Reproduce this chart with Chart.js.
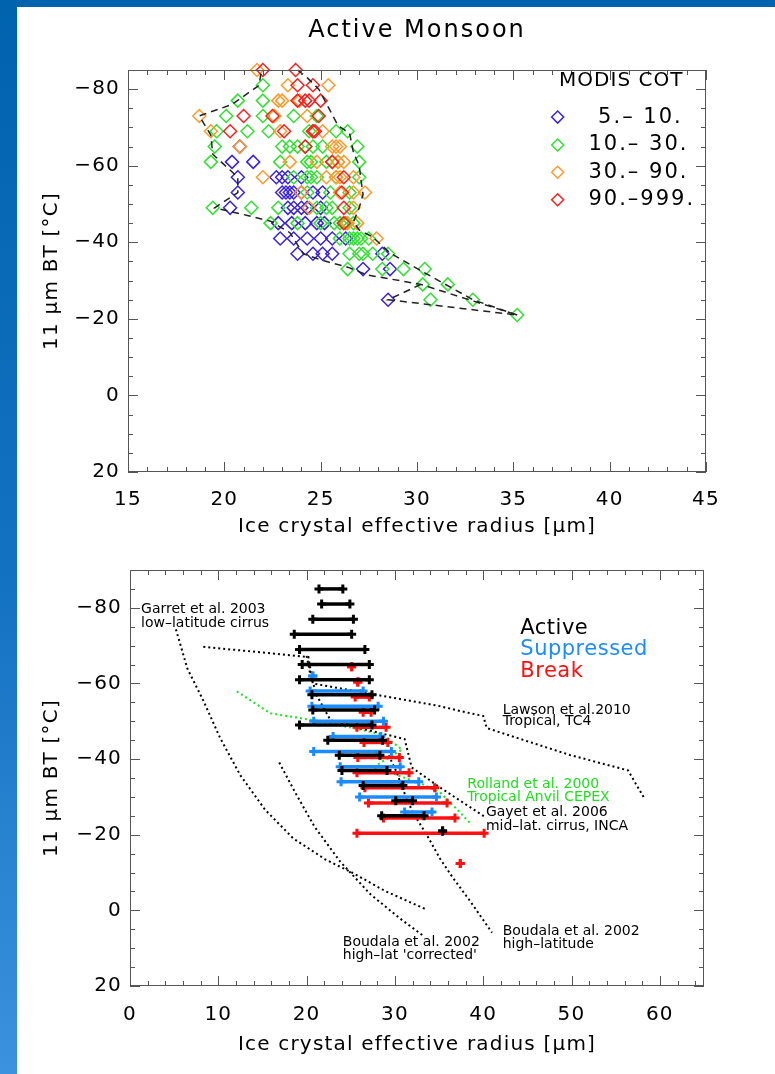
<!DOCTYPE html>
<html>
<head>
<meta charset="utf-8">
<script src="https://cdn.jsdelivr.net/npm/chart.js@4.4.0/dist/chart.umd.min.js"></script>
<style>
  html, body { margin: 0; padding: 0; }
  body { width: 775px; height: 1074px; overflow: hidden; position: relative;
         background: linear-gradient(to bottom, #0063ae 0%, #1472c2 55%, #3b92de 100%); }
  #panel { position: absolute; left: 17px; top: 7px; right: 0; bottom: 0; background: #fff; }
  canvas { position: absolute; left: 17px; }
  #top { top: 7px; }
  #bottom { top: 550px; }
</style>
</head>
<body>
<div id="panel"></div>
<canvas id="top" width="758" height="543"></canvas>
<canvas id="bottom" width="758" height="524"></canvas>
<script>
// ---- tick labels ----
const topXTicks = [15, 20, 25, 30, 35, 40, 45];
const topYTicks = [-80, -60, -40, -20, 0, 20];
const botXTicks = [0, 10, 20, 30, 40, 50, 60];
const botYTicks = [-80, -60, -40, -20, 0, 20];

// ---- top panel: MODIS COT classes, [radius, BT] ----
const cotClasses = ['5.\u2013 10.', '10.\u2013 30.', '30.\u2013 90.', '90.\u2013999.'];
const cot5to10 = [
  [20.8,-65], [20.4,-61], [21.5,-61],
  [20.7,-57], [22.7,-57], [23.0,-57], [23.3,-57], [24.0,-57],
  [20.7,-53], [23.0,-53], [23.2,-53], [23.4,-53], [23.6,-53], [24.0,-53], [24.6,-53], [25.1,-53],
  [20.3,-49], [23.3,-49], [23.6,-49], [24.0,-49], [24.3,-49], [25.0,-49],
  [22.8,-45], [23.5,-45], [24.2,-45], [24.8,-45], [25.2,-45],
  [22.9,-41], [23.6,-41], [24.3,-41], [25.0,-41], [25.6,-41], [26.3,-41],
  [23.8,-37], [24.6,-37], [25.1,-37], [25.6,-37], [28.2,-37],
  [27.2,-33], [28.6,-33], [28.5,-25]
];
const cot10to30 = [
  [22.0,-81], [20.7,-77], [22.0,-77],
  [20.1,-73], [22.0,-73], [23.6,-73], [24.8,-73],
  [19.6,-69], [21.2,-69], [22.3,-69], [24.4,-69], [25.8,-69], [26.4,-69],
  [19.5,-65], [23.0,-65], [23.4,-65], [23.8,-65], [24.2,-65], [24.6,-65], [25.1,-65], [26.9,-65],
  [19.3,-61], [22.9,-61], [24.3,-61], [24.5,-61], [25.3,-61], [25.9,-61], [27.0,-61],
  [23.6,-57], [24.3,-57], [24.5,-57], [24.8,-57], [25.8,-57], [27.0,-57],
  [24.3,-53], [25.5,-53], [26.5,-53],
  [19.4,-49], [21.4,-49], [22.8,-49], [24.8,-49], [25.3,-49], [25.6,-49], [26.5,-49],
  [22.4,-45], [23.8,-45], [25.0,-45], [25.7,-45], [26.0,-45], [26.3,-45], [26.7,-45],
  [26.0,-41], [26.5,-41], [26.7,-41], [26.9,-41], [27.1,-41], [27.5,-41],
  [26.5,-37], [27.0,-37], [27.2,-37], [27.7,-37], [28.5,-37],
  [26.4,-33], [28.2,-33], [29.3,-33], [30.4,-33],
  [30.3,-29], [31.6,-29], [30.7,-25], [32.9,-25], [35.2,-21]
];
const cot30to90 = [
  [21.7,-85], [23.3,-81], [25.4,-81],
  [22.8,-77], [23.0,-77], [23.9,-77],
  [18.7,-73], [22.6,-73], [24.3,-73],
  [19.3,-69], [22.9,-69], [24.6,-69], [25.1,-69],
  [20.8,-65], [25.6,-65], [25.8,-65], [26.0,-65],
  [23.4,-61], [24.8,-61], [25.6,-61], [25.9,-61], [26.2,-61],
  [22.0,-57], [25.3,-57], [25.8,-57], [26.0,-57], [26.7,-57],
  [24.0,-53], [26.0,-53], [26.7,-53], [27.3,-53],
  [24.4,-49], [26.7,-49], [26.4,-45], [26.9,-45], [27.9,-41]
];
const cot90to999 = [
  [22.0,-85], [23.7,-85], [23.8,-81], [24.6,-81],
  [23.8,-77], [24.2,-77], [24.4,-77], [25.0,-77],
  [21.0,-73], [22.5,-73], [24.9,-73],
  [20.3,-69], [23.1,-69], [24.6,-69], [24.7,-69],
  [24.2,-65], [25.6,-61], [26.2,-57], [26.1,-53], [26.2,-49], [26.2,-45]
];
// dashed envelopes
const envLeft = [[21.9,-84],[21.8,-81],[20.4,-76],[18.7,-73],[19.3,-68],[19.4,-63],[20.7,-57],[20.7,-53],
  [19.5,-49],[21.2,-47],[22.4,-45.5],[23.4,-42.5],[24.1,-37],[25.0,-35.4],[26.4,-33.5],[27.4,-31.5],[30.2,-29],[35.2,-21]];
const envRight = [[23.8,-85],[24.3,-83],[24.9,-80],[25.9,-70.5],[26.5,-68.5],[26.7,-63.5],[27.0,-60],[27.1,-56],
  [27.2,-52.5],[27.0,-49],[26.7,-45.3],[27.0,-43.2],[27.7,-41.4],[28.6,-37.2],[30.3,-32.3],[32.9,-25],[35.2,-21]];
const envInner = [[30.2,-29],[28.5,-25],[35.2,-21]];

// ---- bottom panel: regime ranges ----
const activeBT = [-85,-81,-77,-73,-69,-65,-61,-57,-53,-49,-45,-41,-37,-33,-29,-25,-21];
const activeLo = [21.4,21.7,20.7,18.6,19.2,19.5,19.2,20.6,20.7,19.2,22.4,23.7,24.0,26.4,30.1,28.5,35.4];
const activeHi = [24.1,24.9,25.3,25.1,26.6,27.1,27.1,27.4,27.7,27.4,28.6,28.3,29.1,30.9,32.0,33.3,35.4];
const suppBT = [-62,-58,-54,-50,-46,-42,-38,-34,-30,-26];
const suppLo = [20.7,20.4,20.6,20.8,23.0,20.8,23.8,23.9,26.0,31.1];
const suppHi = [20.7,26.4,28.1,28.7,28.4,29.6,30.6,32.7,34.7,34.2];
const breakBT = [-64.4,-60.4,-56.4,-52.4,-48.4,-44.4,-40.4,-36.4,-32.4,-28.4,-24.4,-20.4,-12.4];
const breakLo = [25.1,25.8,25.5,26.4,25.7,26.5,25.8,25.7,26.6,27.0,28.7,25.7,37.4];
const breakHi = [25.1,25.8,27.1,27.3,29.0,29.2,30.5,31.6,34.5,35.9,36.8,40.1,37.4];

// literature relations
const garrett2003 = [[5.2,-74.3],[6.5,-63.9],[8.3,-55.5],[10.2,-45.6],[12.5,-35.7],[15.3,-26.6],[18.5,-19.0],[22.1,-13.5],[25.3,-9.8],[28.9,-5.1],[33.4,-0.4]];
const boudalaCorr = [[16.9,-39.1],[18.7,-31.2],[20.9,-22.1],[23.8,-12.9],[27.2,-4.3],[30.6,2.2],[33.2,6.7]];
const boudalaHigh = [[29.3,-41.0],[30.2,-36.5],[30.9,-32.0],[32.0,-26.0],[33.6,-20.0],[35.1,-13.7],[36.6,-8.5],[38.5,-2.5],[41.0,5.9]];
const gayet2006 = [[20.0,-67.3],[20.4,-62.6],[21.2,-56.6],[22.7,-50.3],[26.0,-48.2],[31.1,-45.3],[31.9,-37.8],[35.1,-32.5],[40.2,-24.7]];
const lawson2010 = [[8.3,-69.7],[20.2,-67.0],[20.7,-60.0],[35.1,-54.0],[37.4,-52.7],[40.0,-51.4],[40.4,-48.2],[49.8,-41.1],[56.4,-37.0],[58.3,-29.4]];
const rolland2000 = [[12.1,-57.9],[15.9,-52.1],[20.7,-50.3],[25.3,-48.2],[28.7,-46.4],[30.8,-42.5],[27.5,-37.8],[29.4,-36.5],[33.2,-33.3],[35.1,-31.2],[37.0,-26.8],[38.7,-22.6]];

const FONT = '"DejaVu Sans", sans-serif';
const COT_COLORS = ['#3a22e0', '#33e033', '#ff9a2a', '#f02424'];
const BLUE = '#1a8cff', RED = '#ff1010', GREEN = '#22dd22';

const fmt = v => (v < 0 ? '\u2212' + Math.abs(v) : String(v));
const pts = arr => arr.map(([x, y]) => ({ x, y }));

// wider glyph spacing, closer to the plotting font of the original
const spacing = {
  id: 'spacing',
  beforeDraw(chart) { chart.ctx.letterSpacing = '1.2px'; }
};

// IDL-style box with inward ticks on all four sides
const insideTicks = {
  id: 'insideTicks',
  afterDatasetsDraw(chart, args, o) {
    const { ctx, chartArea: a, scales: { x, y } } = chart;
    ctx.save();
    ctx.strokeStyle = '#555';
    ctx.lineWidth = 1;
    ctx.strokeRect(a.left + 0.5, a.top + 0.5, a.width - 1, a.height - 1);
    ctx.beginPath();
    const isMajor = (v, m) => Math.abs(v / m - Math.round(v / m)) < 1e-6;
    for (let v = Math.ceil(x.min / o.xMinor) * o.xMinor; v <= x.max + 1e-6; v += o.xMinor) {
      const len = isMajor(v, o.xMajor) ? 10 : 5;
      const px = Math.round(x.getPixelForValue(v)) + 0.5;
      ctx.moveTo(px, a.bottom); ctx.lineTo(px, a.bottom - len);
      ctx.moveTo(px, a.top); ctx.lineTo(px, a.top + len);
    }
    for (let v = Math.ceil(y.min / o.yMinor) * o.yMinor; v <= y.max + 1e-6; v += o.yMinor) {
      const len = isMajor(v, o.yMajor) ? 10 : 5;
      const py = Math.round(y.getPixelForValue(v)) + 0.5;
      ctx.moveTo(a.left, py); ctx.lineTo(a.left + len, py);
      ctx.moveTo(a.right, py); ctx.lineTo(a.right - len, py);
    }
    ctx.stroke();
    ctx.restore();
  }
};

// free text and legend marks placed in data units
const labelText = {
  id: 'labelText',
  afterDraw(chart, args, o) {
    const { ctx, chartArea: a, scales: { x, y } } = chart;
    ctx.save();
    ctx.textBaseline = 'middle';
    if (o.title) {
      ctx.font = o.title.font;
      ctx.letterSpacing = '2px';
      ctx.fillStyle = '#000';
      ctx.textAlign = 'center';
      ctx.fillText(o.title.text, (a.left + a.right) / 2, a.top - o.title.gap);
    }
    (o.items || []).forEach(t => {
      ctx.font = t.font;
      ctx.letterSpacing = t.spacing || '0px';
      ctx.fillStyle = t.color || '#000';
      ctx.textAlign = t.align || 'left';
      ctx.fillText(t.text, x.getPixelForValue(t.x), y.getPixelForValue(t.y));
    });
    (o.marks || []).forEach(m => {
      const px = x.getPixelForValue(m.x), py = y.getPixelForValue(m.y), r = 6;
      ctx.strokeStyle = m.color;
      ctx.lineWidth = 1.5;
      ctx.beginPath();
      ctx.moveTo(px, py - r); ctx.lineTo(px + r, py); ctx.lineTo(px, py + r); ctx.lineTo(px - r, py);
      ctx.closePath();
      ctx.stroke();
    });
    ctx.restore();
  }
};

function axis(min, max, ticks, extra) {
  return Object.assign({
    type: 'linear', min, max,
    afterBuildTicks: s => { s.ticks = ticks.map(v => ({ value: v })); },
    grid: { display: false, drawTicks: false },
    border: { display: false }
  }, extra);
}
const tickFont = { family: FONT, size: 20 };
const titleFont = { family: FONT, size: 20 };

// ---------- top chart ----------
const diamondSet = (arr, color) => ({
  data: pts(arr), pointStyle: 'rectRot', pointRadius: 6.5, pointHoverRadius: 6.5, clip: false,
  pointBorderWidth: 1.5, borderColor: color, pointBorderColor: color, backgroundColor: 'rgba(0,0,0,0)'
});
const dashSet = arr => ({
  data: pts(arr), showLine: true, pointRadius: 0, clip: false, borderColor: '#222', borderWidth: 1.5, borderDash: [7, 5]
});

new Chart(document.getElementById('top'), {
  type: 'scatter',
  data: {
    datasets: [
      dashSet(envLeft), dashSet(envRight), dashSet(envInner),
      diamondSet(cot90to999, COT_COLORS[3]),
      diamondSet(cot30to90, COT_COLORS[2]),
      diamondSet(cot10to30, COT_COLORS[1]),
      diamondSet(cot5to10, COT_COLORS[0])
    ]
  },
  options: {
    responsive: false, animation: false, devicePixelRatio: 1,
    layout: { padding: { top: 63, right: 69, left: 0, bottom: 0 } },
    scales: {
      x: axis(15, 45, topXTicks, {
        afterFit: s => { s.height = 78; },
        ticks: { color: '#000', font: tickFont, padding: 16, maxRotation: 0, autoSkip: false },
        title: { display: true, text: 'Ice crystal effective radius [\u03bcm]', color: '#000', font: titleFont, padding: { top: 0, bottom: 11 } }
      }),
      y: axis(-85, 20, topYTicks, {
        reverse: true,
        afterFit: s => { s.width = 111; },
        ticks: { color: '#000', font: tickFont, padding: 8, callback: fmt, autoSkip: false },
        title: { display: true, text: '11 \u03bcm BT [\u00b0C]', color: '#000', font: titleFont, padding: { top: 23, bottom: 0 } }
      })
    },
    plugins: {
      legend: { display: false }, tooltip: { enabled: false },
      insideTicks: { xMajor: 5, xMinor: 1, yMajor: 20, yMinor: 5 },
      labelText: {
        title: { text: 'Active Monsoon', font: '24px ' + FONT, gap: 39 },
        items: [
          { text: 'MODIS COT', x: 40.6, y: -82.2, align: 'center', font: '20px ' + FONT, spacing: '1px' },
          { text: cotClasses[0], x: 39.4, y: -72.7, font: '21px ' + FONT, spacing: '2px' },
          { text: cotClasses[1], x: 38.9, y: -65.4, font: '21px ' + FONT, spacing: '2px' },
          { text: cotClasses[2], x: 38.9, y: -58.3, font: '21px ' + FONT, spacing: '2px' },
          { text: cotClasses[3], x: 38.9, y: -51.1, font: '21px ' + FONT, spacing: '2px' }
        ],
        marks: [
          { x: 37.3, y: -72.7, color: COT_COLORS[0] },
          { x: 37.3, y: -65.4, color: COT_COLORS[1] },
          { x: 37.3, y: -58.3, color: COT_COLORS[2] },
          { x: 37.3, y: -51.1, color: COT_COLORS[3] }
        ]
      }
    }
  },
  plugins: [spacing, insideTicks, labelText]
});

// ---------- bottom chart ----------
function rangeSets(bt, lo, hi, color) {
  return bt.map((t, i) => ({
    data: [{ x: lo[i], y: t }, { x: hi[i], y: t }],
    showLine: true, borderColor: color, borderWidth: 3.5, clip: false,
    pointStyle: 'cross', pointRadius: 4.5, pointBorderWidth: 3,
    pointBorderColor: color, pointBackgroundColor: color
  }));
}
const dotSet = (arr, color) => ({
  data: pts(arr), showLine: true, pointRadius: 0, borderColor: color, borderWidth: 2, borderDash: [2, 3]
});

const f14 = '14px ' + FONT;
new Chart(document.getElementById('bottom'), {
  type: 'scatter',
  data: {
    datasets: [
      ...rangeSets(activeBT, activeLo, activeHi, '#000'),
      ...rangeSets(suppBT, suppLo, suppHi, BLUE),
      ...rangeSets(breakBT, breakLo, breakHi, RED),
      dotSet(garrett2003, '#000'), dotSet(boudalaCorr, '#000'), dotSet(boudalaHigh, '#000'),
      dotSet(gayet2006, '#000'), dotSet(lawson2010, '#000'), dotSet(rolland2000, GREEN)
    ]
  },
  options: {
    responsive: false, animation: false, devicePixelRatio: 1,
    layout: { padding: { top: 15, right: 71, left: 0, bottom: 0 } },
    scales: {
      x: axis(0, 65, botXTicks, {
        afterFit: s => { s.height = 88; },
        ticks: { color: '#000', font: tickFont, padding: 17, maxRotation: 0, autoSkip: false },
        title: { display: true, text: 'Ice crystal effective radius [\u03bcm]', color: '#000', font: titleFont, padding: { top: 0, bottom: 17 } }
      }),
      y: axis(-90, 20, botYTicks, {
        reverse: true,
        afterFit: s => { s.width = 113; },
        ticks: { color: '#000', font: tickFont, padding: 8, callback: fmt, autoSkip: false },
        title: { display: true, text: '11 \u03bcm BT [\u00b0C]', color: '#000', font: titleFont, padding: { top: 23, bottom: 0 } }
      })
    },
    plugins: {
      legend: { display: false }, tooltip: { enabled: false },
      insideTicks: { xMajor: 10, xMinor: 2, yMajor: 20, yMinor: 5 },
      labelText: {
        items: [
          { text: 'Garret et al. 2003', x: 1.25, y: -79.6, font: f14 },
          { text: 'low\u2013latitude cirrus', x: 1.25, y: -75.9, font: f14 },
          { text: 'Active', x: 44.2, y: -74.6, font: '21px ' + FONT, color: '#000', spacing: '0.5px' },
          { text: 'Suppressed', x: 44.2, y: -68.9, font: '21px ' + FONT, color: BLUE, spacing: '0.5px' },
          { text: 'Break', x: 44.2, y: -63.1, font: '21px ' + FONT, color: RED, spacing: '0.5px' },
          { text: 'Lawson et al.2010', x: 42.2, y: -53.0, font: f14 },
          { text: 'Tropical, TC4', x: 42.2, y: -49.9, font: f14 },
          { text: 'Rolland et al. 2000', x: 38.2, y: -33.4, font: f14, color: GREEN },
          { text: 'Tropical Anvil CEPEX', x: 38.2, y: -30.0, font: f14, color: GREEN },
          { text: 'Gayet et al. 2006', x: 40.3, y: -26.0, font: f14 },
          { text: 'mid\u2013lat. cirrus, INCA', x: 40.3, y: -22.3, font: f14 },
          { text: 'Boudala et al. 2002', x: 42.2, y: 5.6, font: f14 },
          { text: 'high\u2013latitude', x: 42.2, y: 9.0, font: f14 },
          { text: 'Boudala et al. 2002', x: 24.1, y: 8.5, font: f14 },
          { text: "high\u2013lat 'corrected'", x: 24.1, y: 11.9, font: f14 }
        ]
      }
    }
  },
  plugins: [spacing, insideTicks, labelText]
});
</script>
</body>
</html>
